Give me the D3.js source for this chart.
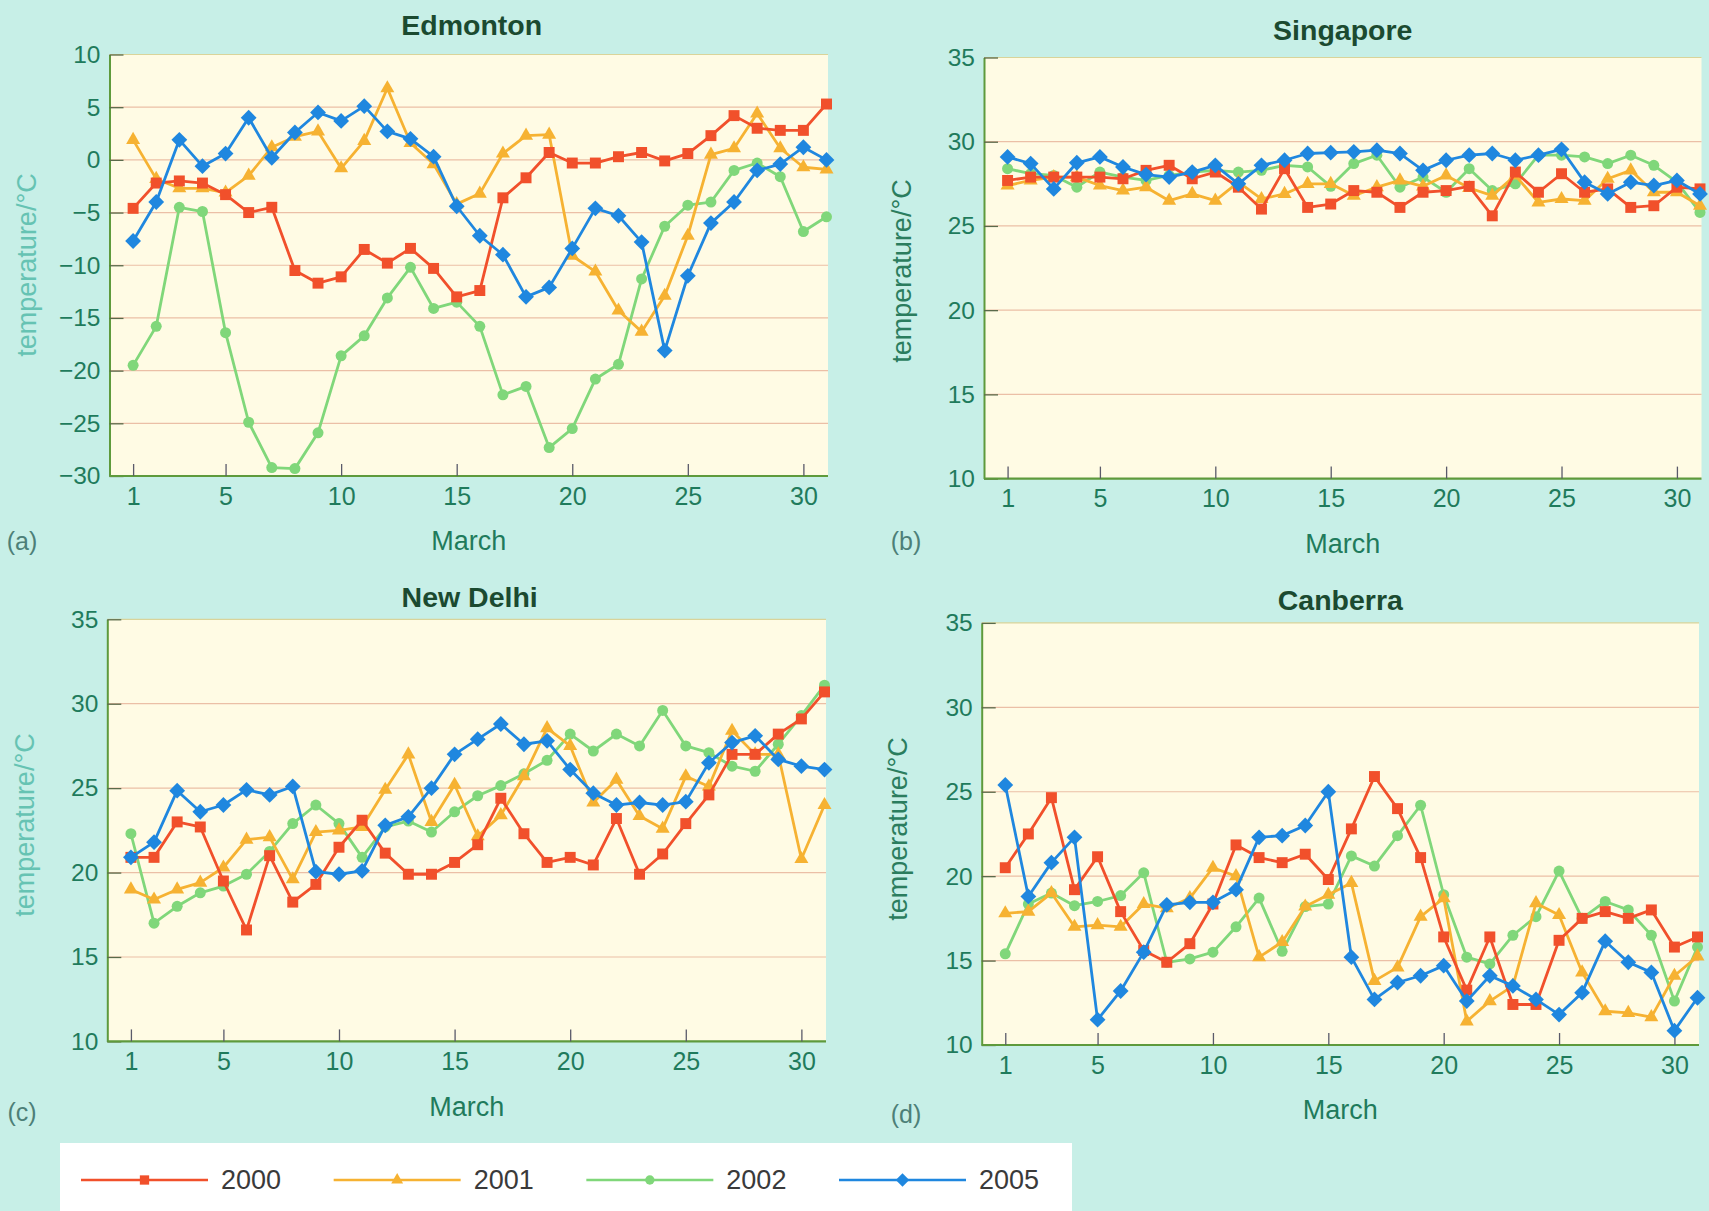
<!DOCTYPE html>
<html>
<head>
<meta charset="utf-8">
<script src="https://cdn.jsdelivr.net/npm/d3@7"></script>
<style>
  html, body { margin: 0; padding: 0; background: #c7efe7; }
  svg { display: block; }
  text { font-family: "Liberation Sans", Arial, Helvetica, sans-serif; }
</style>
</head>
<body>
<svg id="chart" width="1709" height="1211"></svg>
<script>
// ---- data: daily March temperatures (°C) ----
const days = [1,2,3,4,5,6,7,8,9,10,11,12,13,14,15,16,17,18,19,20,21,22,23,24,25,26,27,28,29,30,31];
const years = ["2000", "2001", "2002", "2005"];
const xTickValues = [1, 5, 10, 15, 20, 25, 30];
const yTicksEdmonton = [-30, -25, -20, -15, -10, -5, 0, 5, 10];
const yTicksWarm = [10, 15, 20, 25, 30, 35];

const edmonton2000 = [-4.6,-2.2,-2.0,-2.2,-3.3,-5.0,-4.5,-10.5,-11.7,-11.1,-8.5,-9.8,-8.4,-10.3,-13.0,-12.4,-3.6,-1.7,0.7,-0.3,-0.3,0.3,0.7,-0.1,0.6,2.3,4.2,3.0,2.8,2.8,5.3];
const edmonton2001 = [1.9,-1.8,-2.7,-2.7,-3.1,-1.5,1.2,2.2,2.7,-0.8,1.8,6.8,1.6,-0.4,-4.2,-3.2,0.6,2.3,2.4,-9.1,-10.6,-14.3,-16.3,-12.9,-7.2,0.5,1.1,4.4,1.1,-0.7,-0.9];
const edmonton2002 = [-19.5,-15.8,-4.5,-4.9,-16.4,-24.9,-29.2,-29.3,-25.9,-18.6,-16.7,-13.1,-10.2,-14.1,-13.5,-15.8,-22.3,-21.5,-27.3,-25.5,-20.8,-19.4,-11.3,-6.3,-4.3,-4.0,-1.0,-0.3,-1.6,-6.8,-5.4];
const edmonton2005 = [-7.7,-4.0,1.9,-0.6,0.6,4.0,0.2,2.6,4.5,3.7,5.1,2.7,2.0,0.3,-4.4,-7.2,-9.0,-13.0,-12.1,-8.4,-4.6,-5.3,-7.8,-18.1,-11.0,-6.0,-4.0,-1.0,-0.4,1.2,0.0];

const singapore2000 = [27.7,27.9,27.9,27.9,27.9,27.8,28.3,28.6,27.8,28.2,27.3,26.0,28.4,26.1,26.3,27.1,27.0,26.1,27.0,27.1,27.35,25.6,28.2,27.0,28.1,27.0,27.2,26.1,26.2,27.3,27.2];
const singapore2001 = [27.4,27.7,27.9,27.9,27.4,27.1,27.3,26.5,26.9,26.5,27.6,26.6,26.9,27.5,27.5,26.8,27.3,27.7,27.35,28.0,27.25,26.8,28.0,26.4,26.6,26.5,27.8,28.3,27.0,27.0,26.2];
const singapore2002 = [28.4,28.1,28.0,27.3,28.2,27.9,27.7,28.0,28.2,28.3,28.2,28.3,28.6,28.5,27.35,28.7,29.2,27.3,27.9,27.0,28.4,27.1,27.5,29.2,29.2,29.1,28.7,29.2,28.6,27.6,25.8];
const singapore2005 = [29.1,28.7,27.2,28.75,29.1,28.5,28.05,27.9,28.2,28.6,27.5,28.6,28.9,29.3,29.35,29.4,29.5,29.3,28.3,28.9,29.2,29.3,28.9,29.2,29.55,27.6,26.9,27.6,27.4,27.7,26.9];

const delhi2000 = [20.9,20.9,23.0,22.7,19.5,16.6,21.0,18.25,19.3,21.5,23.1,21.15,19.9,19.9,20.6,21.65,24.4,22.3,20.6,20.9,20.45,23.2,19.9,21.1,22.9,24.6,27.0,27.0,28.2,29.1,30.7];
const delhi2001 = [19.0,18.4,19.0,19.4,20.3,21.95,22.1,19.6,22.4,22.5,22.7,24.9,27.0,23.0,25.2,22.15,23.4,25.7,28.55,27.5,24.15,25.5,23.35,22.6,25.7,25.1,28.4,27.0,27.0,20.8,24.0];
const delhi2002 = [22.3,17.0,18.0,18.8,19.2,19.9,21.25,22.9,24.0,22.9,20.9,22.7,23.05,22.4,23.6,24.55,25.15,25.85,26.65,28.2,27.2,28.2,27.5,29.6,27.5,27.1,26.3,26.0,27.6,29.3,31.1];
const delhi2005 = [20.9,21.8,24.85,23.6,24.0,24.9,24.6,25.1,20.05,19.9,20.1,22.8,23.3,25.0,27.0,27.9,28.8,27.6,27.8,26.1,24.7,24.0,24.15,24.0,24.2,26.5,27.7,28.1,26.7,26.3,26.1];

const canberra2000 = [20.5,22.5,24.65,19.2,21.15,17.9,15.6,14.9,16.0,18.35,21.85,21.1,20.8,21.3,19.8,22.8,25.9,24.0,21.1,16.4,13.25,16.4,12.4,12.4,16.2,17.5,17.9,17.5,18.0,15.8,16.4];
const canberra2001 = [17.8,17.9,19.0,17.0,17.1,17.0,18.35,18.1,18.7,20.5,20.0,15.2,16.1,18.2,18.9,19.6,13.8,14.6,17.6,18.7,11.4,12.6,13.5,18.4,17.7,14.3,12.0,11.9,11.65,14.1,15.25];
const canberra2002 = [15.4,18.35,19.0,18.25,18.5,18.85,20.2,14.9,15.1,15.5,17.0,18.7,15.55,18.2,18.35,21.2,20.6,22.4,24.2,18.9,15.2,14.8,16.5,17.6,20.3,17.5,18.5,18.0,16.5,12.6,15.8];
const canberra2005 = [25.4,18.8,20.8,22.3,11.5,13.2,15.5,18.3,18.45,18.45,19.2,22.3,22.4,23.0,25.0,15.2,12.7,13.7,14.1,14.7,12.6,14.1,13.5,12.7,11.8,13.1,16.15,14.9,14.3,10.85,12.8];

// ---- appearance ----
const seriesStyle = {
  "2000": { color: "#f1502b", symbol: "square" },
  "2001": { color: "#f6b232", symbol: "triangle" },
  "2002": { color: "#80d77a", symbol: "circle" },
  "2005": { color: "#1f87df", symbol: "diamond" }
};
const drawOrder = ["2002", "2001", "2000", "2005"];

const panels = [
  { title: "Edmonton", letter: "(a)", yDomain: [-30, 10], yTicks: yTicksEdmonton,
    series: { "2000": edmonton2000, "2001": edmonton2001, "2002": edmonton2002, "2005": edmonton2005 },
    box: { left: 109.5, right: 828, top: 54.5, bottom: 476 }, titleDx: 3, titleY: 25,
    letterPos: [22, 541], ylab: { x: 27, y: 265, color: "#66c3b3" } },
  { title: "Singapore", letter: "(b)", yDomain: [10, 35], yTicks: yTicksWarm,
    series: { "2000": singapore2000, "2001": singapore2001, "2002": singapore2002, "2005": singapore2005 },
    box: { left: 984, right: 1701.5, top: 57.5, bottom: 478.6 }, titleDx: 0, titleY: 30,
    letterPos: [906, 541], ylab: { x: 902, y: 271, color: "#2b7d5e" } },
  { title: "New Delhi", letter: "(c)", yDomain: [10, 35], yTicks: yTicksWarm,
    series: { "2000": delhi2000, "2001": delhi2001, "2002": delhi2002, "2005": delhi2005 },
    box: { left: 107.3, right: 826, top: 619.3, bottom: 1041.4 }, titleDx: 3, titleY: 597,
    letterPos: [22, 1112], ylab: { x: 25, y: 825, color: "#66c3b3" } },
  { title: "Canberra", letter: "(d)", yDomain: [10, 35], yTicks: yTicksWarm,
    series: { "2000": canberra2000, "2001": canberra2001, "2002": canberra2002, "2005": canberra2005 },
    box: { left: 981.7, right: 1699, top: 622.9, bottom: 1045 }, titleDx: 0, titleY: 600,
    letterPos: [906, 1114], ylab: { x: 898, y: 829, color: "#2b7d5e" } }
];

const svg = d3.select("#chart");
const tickColor = "#1f7b5c";

function symbolPath(kind, scale) {
  const s = scale || 1;
  if (kind === "square") return d3.symbol(d3.symbolSquare, 120 * s * s)();
  if (kind === "triangle") return d3.symbol(d3.symbolTriangle, 85 * s * s)();
  if (kind === "circle") return d3.symbol(d3.symbolCircle, 95 * s * s)();
  return d3.symbol(d3.symbolSquare, 125 * s * s)();   // rotated below → diamond
}

panels.forEach(p => {
  const b = p.box;
  const x = d3.scaleLinear().domain([0, 31]).range([b.left + 0.5, b.right - 1.5]);
  const y = d3.scaleLinear().domain(p.yDomain).range([b.bottom, b.top]);
  const g = svg.append("g");

  // plot area
  g.append("rect")
    .attr("x", b.left).attr("y", b.top)
    .attr("width", b.right - b.left).attr("height", b.bottom - b.top)
    .attr("fill", "#fffbe4");

  // horizontal grid
  g.append("g").selectAll("line")
    .data(p.yTicks.filter(v => v !== p.yDomain[0]))
    .join("line")
    .attr("x1", b.left).attr("x2", b.right)
    .attr("y1", d => y(d)).attr("y2", d => y(d))
    .attr("stroke", d => d === p.yDomain[1] ? "#d9d49a" : "#ebbfa6")
    .attr("stroke-width", 1.2);

  // y axis
  const ya = g.append("g")
    .attr("transform", `translate(${b.left},0)`)
    .call(d3.axisLeft(y).tickValues(p.yTicks).tickSize(-14).tickSizeOuter(0).tickPadding(9));
  ya.select(".domain").attr("stroke", "#5e9a3c").attr("stroke-width", 2);
  ya.selectAll(".tick line").attr("stroke", "#5a6a4a").attr("stroke-width", 1.3);
  ya.selectAll(".tick text").attr("fill", tickColor).attr("font-size", 24.5)
    .style("font-family", "'Liberation Sans', Arial, sans-serif");

  // x axis
  const xa = g.append("g")
    .attr("transform", `translate(0,${b.bottom})`)
    .call(d3.axisBottom(x).tickValues(xTickValues).tickSize(-12).tickSizeOuter(0).tickPadding(11));
  xa.select(".domain").attr("stroke", "#5e9a3c").attr("stroke-width", 2.2)
    .attr("d", `M${b.left},0H${b.right}`);
  xa.selectAll(".tick line").attr("stroke", "#5a5a6a").attr("stroke-width", 1.3);
  xa.selectAll(".tick text").attr("fill", tickColor).attr("font-size", 25)
    .style("font-family", "'Liberation Sans', Arial, sans-serif");

  // titles and labels
  const cx = (b.left + b.right) / 2;
  g.append("text").attr("x", cx + p.titleDx).attr("y", p.titleY).attr("dy", "0.35em")
    .attr("text-anchor", "middle").attr("font-size", 28.5).attr("font-weight", "bold")
    .attr("fill", "#1b4a30").text(p.title);
  g.append("text").attr("x", cx).attr("y", b.bottom + 65).attr("dy", "0.35em")
    .attr("text-anchor", "middle").attr("font-size", 27).attr("fill", tickColor).text("March");
  g.append("text").attr("x", p.letterPos[0]).attr("y", p.letterPos[1]).attr("dy", "0.35em")
    .attr("text-anchor", "middle").attr("font-size", 25).attr("fill", "#4d7f78").text(p.letter);
  g.append("text")
    .attr("transform", `translate(${p.ylab.x},${p.ylab.y}) rotate(-90)`)
    .attr("dy", "0.35em").attr("text-anchor", "middle")
    .attr("font-size", 27).attr("fill", p.ylab.color).text("temperature/°C");

  // series
  const line = d3.line().x((d, i) => x(days[i])).y(d => y(d));
  drawOrder.forEach(yr => {
    const st = seriesStyle[yr];
    const vals = p.series[yr];
    g.append("path").datum(vals)
      .attr("d", line).attr("fill", "none")
      .attr("stroke", st.color).attr("stroke-width", 2.8)
      .attr("stroke-linejoin", "round");
    g.append("g").selectAll("path")
      .data(vals)
      .join("path")
      .attr("d", symbolPath(st.symbol))
      .attr("transform", (d, i) => `translate(${x(days[i])},${y(d)})` + (st.symbol === "diamond" ? " rotate(45)" : ""))
      .attr("fill", st.color);
  });
});

// ---- legend ----
const legend = svg.append("g");
legend.append("rect").attr("x", 60).attr("y", 1143).attr("width", 1012).attr("height", 80).attr("fill", "#ffffff");
const legendX = d3.scalePoint().domain(years).range([81, 839]);
const legendY = 1180;
years.forEach(yr => {
  const st = seriesStyle[yr];
  const x0 = legendX(yr);
  const item = legend.append("g");
  item.append("line").attr("x1", x0).attr("x2", x0 + 127).attr("y1", legendY).attr("y2", legendY)
    .attr("stroke", st.color).attr("stroke-width", 2.6);
  item.append("path").attr("d", symbolPath(st.symbol, 0.85))
    .attr("transform", `translate(${x0 + 63.5},${legendY})` + (st.symbol === "diamond" ? " rotate(45)" : ""))
    .attr("fill", st.color);
  item.append("text").attr("x", x0 + 140).attr("y", legendY).attr("dy", "0.35em")
    .attr("font-size", 27).attr("fill", "#3a3a3a").text(yr);
});
</script>
</body>
</html>
